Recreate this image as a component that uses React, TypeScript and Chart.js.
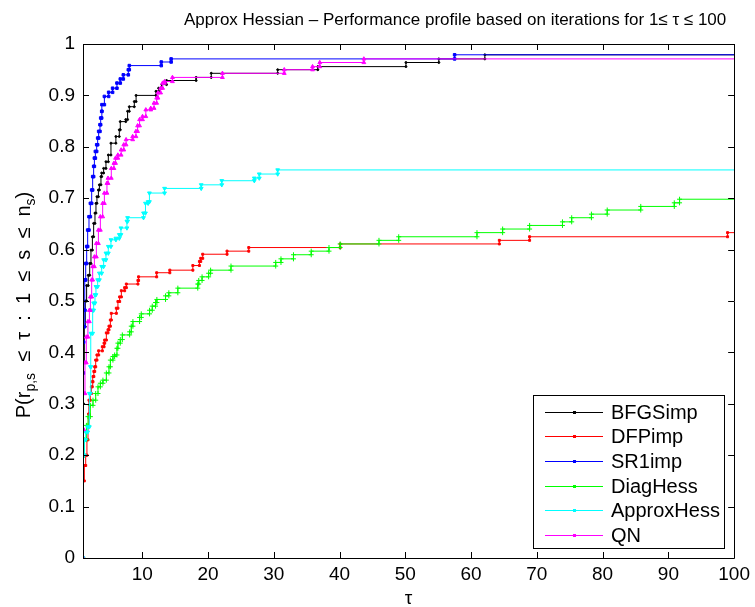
import React, { useEffect, useRef } from "react";
import { Chart, registerables } from "chart.js";
Chart.register(...registerables);

const xTicks = [10, 20, 30, 40, 50, 60, 70, 80, 90, 100];
const yTicks = [0, 0.1, 0.2, 0.3, 0.4, 0.5, 0.6, 0.7, 0.8, 0.9, 1];
const seriesNames = ["BFGSimp", "DFPimp", "SR1imp", "DiagHess", "ApproxHess", "QN"];
const seriesColors = ["#000000", "#ff0000", "#0000ff", "#00ff00", "#00ffff", "#ff00ff"];

const bfgsTau = [1, 1.1, 1.2, 1.35, 1.55, 1.8, 2.02, 2.21, 2.43, 2.62, 2.82, 2.97, 3.12, 3.34, 3.49, 3.73, 3.84, 4.14, 4.49, 4.85, 5.25, 6.0, 6.52, 6.67, 7.5, 7.78, 8.04, 8.8, 9.07, 12.1, 12.5, 13.0, 13.7, 18.2, 20.5, 30.6, 36.7, 50.1, 55.1, 62.1];
const bfgsP = [0.3, 0.38, 0.45, 0.5, 0.53, 0.55, 0.573, 0.599, 0.625, 0.651, 0.671, 0.69, 0.703, 0.716, 0.726, 0.742, 0.749, 0.758, 0.771, 0.784, 0.807, 0.82, 0.833, 0.849, 0.853, 0.869, 0.878, 0.888, 0.9, 0.908, 0.914, 0.921, 0.929, 0.935, 0.943, 0.95, 0.956, 0.964, 0.971, 0.979];

const dfpTau = [1, 1.2, 1.41, 1.6, 1.76, 1.85, 1.91, 2.1, 2.27, 2.4, 2.52, 2.65, 2.78, 2.93, 3.12, 3.38, 3.94, 4.2, 4.3, 4.55, 4.8, 4.95, 5.16, 5.3, 6.07, 6.31, 6.57, 6.83, 7.33, 7.59, 9.35, 9.45, 12.2, 14.2, 17.7, 18.7, 18.9, 19.2, 22.9, 26.2, 40.1, 64.3, 68.9, 99.0];
const dfpP = [0.15, 0.18, 0.2, 0.23, 0.255, 0.28, 0.307, 0.32, 0.333, 0.343, 0.353, 0.363, 0.372, 0.385, 0.395, 0.403, 0.411, 0.418, 0.424, 0.438, 0.444, 0.451, 0.463, 0.476, 0.486, 0.499, 0.508, 0.52, 0.526, 0.533, 0.54, 0.547, 0.555, 0.56, 0.569, 0.577, 0.583, 0.591, 0.597, 0.604, 0.611, 0.618, 0.625, 0.633];

const sr1Tau = [1, 1.05, 1.1, 1.2, 1.3, 1.41, 1.56, 1.71, 1.91, 2.12, 2.32, 2.47, 2.62, 2.73, 2.88, 3.08, 3.23, 3.38, 3.58, 3.69, 3.84, 3.88, 4.25, 4.9, 5.5, 6.16, 6.67, 7.13, 7.89, 8.04, 12.9, 14.4, 57.5];
const sr1P = [0.36, 0.42, 0.45, 0.482, 0.541, 0.573, 0.606, 0.638, 0.664, 0.69, 0.716, 0.742, 0.762, 0.778, 0.791, 0.804, 0.817, 0.83, 0.843, 0.856, 0.869, 0.882, 0.898, 0.906, 0.914, 0.924, 0.932, 0.94, 0.95, 0.958, 0.965, 0.971, 0.979];

const diagTau = [1, 1.2, 1.52, 1.76, 2.12, 2.52, 2.93, 3.28, 3.64, 4.03, 4.55, 4.95, 5.16, 5.55, 5.81, 6.16, 6.31, 6.67, 6.98, 8.09, 8.34, 8.59, 9.6, 9.86, 11.12, 11.53, 12.03, 12.23, 13.55, 14.05, 15.42, 18.45, 18.6, 19.1, 20.1, 20.4, 23.5, 30.3, 31.1, 33.0, 35.7, 38.4, 40.1, 46.0, 49.0, 60.9, 64.8, 68.9, 73.9, 75.3, 78.3, 80.7, 85.8, 90.9, 91.7];
const diagP = [0.2, 0.23, 0.258, 0.275, 0.297, 0.307, 0.32, 0.333, 0.34, 0.346, 0.36, 0.372, 0.385, 0.392, 0.395, 0.408, 0.418, 0.425, 0.434, 0.44, 0.451, 0.46, 0.468, 0.475, 0.482, 0.49, 0.497, 0.503, 0.51, 0.516, 0.525, 0.533, 0.54, 0.547, 0.554, 0.56, 0.568, 0.575, 0.582, 0.59, 0.597, 0.604, 0.611, 0.618, 0.625, 0.633, 0.64, 0.647, 0.654, 0.662, 0.669, 0.677, 0.684, 0.691, 0.698];

const approxTau = [1, 1.2, 1.41, 1.71, 1.97, 2.12, 2.21, 2.47, 2.62, 2.82, 2.97, 3.23, 3.49, 3.84, 4.14, 4.49, 4.85, 5.25, 6.0, 6.52, 6.77, 7.68, 7.78, 10.2, 10.5, 10.9, 11.1, 13.4, 18.97, 22.1, 27.05, 27.8, 30.6];
const approxP = [0.2, 0.23, 0.245, 0.255, 0.32, 0.372, 0.437, 0.482, 0.496, 0.512, 0.528, 0.541, 0.554, 0.567, 0.58, 0.593, 0.606, 0.619, 0.622, 0.629, 0.642, 0.655, 0.662, 0.671, 0.69, 0.693, 0.71, 0.719, 0.726, 0.734, 0.739, 0.747, 0.755];

const qnTau = [1, 1.1, 1.3, 1.5, 1.75, 1.97, 2.12, 2.32, 2.47, 2.73, 3.03, 3.34, 3.64, 3.99, 4.25, 4.64, 4.8, 5.3, 5.7, 5.95, 6.3, 6.8, 7.2, 7.55, 8.55, 9.05, 9.3, 9.6, 10.05, 10.55, 11.3, 11.8, 12.2, 12.4, 12.8, 13.1, 13.4, 14.6, 22.2, 31.6, 35.9, 37.0, 43.7];
const qnP = [0.25, 0.32, 0.38, 0.43, 0.46, 0.482, 0.508, 0.541, 0.567, 0.586, 0.612, 0.638, 0.664, 0.69, 0.71, 0.729, 0.739, 0.758, 0.768, 0.778, 0.784, 0.794, 0.804, 0.814, 0.82, 0.83, 0.841, 0.853, 0.859, 0.872, 0.875, 0.885, 0.895, 0.905, 0.914, 0.924, 0.927, 0.935, 0.943, 0.95, 0.956, 0.964, 0.971];

const seriesTau = [bfgsTau, dfpTau, sr1Tau, diagTau, approxTau, qnTau];
const seriesP = [bfgsP, dfpP, sr1P, diagP, approxP, qnP];
const seriesMarkers: any[] = ["circle", "rect", "rect", "cross", "triangle", "triangle"];
const markerRot = [0, 0, 0, 0, 180, 0];
const markerSize = [1, 1.4, 1.8, 2.5, 2.2, 2.2];

const FONT = "'Liberation Sans', Arial, Helvetica, sans-serif";
const TAU_MAX = 100;

function corners(tau: number[], p: number[]) {
  const pts: { x: number; y: number }[] = [{ x: tau[0], y: 0 }, { x: tau[0], y: p[0] }];
  for (let i = 1; i < tau.length; i++) {
    pts.push({ x: tau[i], y: p[i - 1] });
    pts.push({ x: tau[i], y: p[i] });
  }
  pts.push({ x: TAU_MAX, y: p[p.length - 1] });
  return pts;
}

const framePlugin = {
  id: "matlabFrame",
  afterDraw(chart: any) {
    const ctx = chart.ctx;
    const { left, right, top, bottom } = chart.chartArea;
    const xs = chart.scales.x;
    const ys = chart.scales.y;
    ctx.save();
    ctx.strokeStyle = "#000";
    ctx.lineWidth = 1;
    ctx.beginPath();
    ctx.rect(Math.round(left) + 0.5, Math.round(top) + 0.5, Math.round(right - left), Math.round(bottom - top));
    ctx.stroke();
    const tl = 6;
    ctx.beginPath();
    xTicks.forEach((v) => {
      const px = Math.round(xs.getPixelForValue(v)) + 0.5;
      ctx.moveTo(px, bottom);
      ctx.lineTo(px, bottom - tl);
      ctx.moveTo(px, top);
      ctx.lineTo(px, top + tl);
    });
    yTicks.forEach((v) => {
      const py = Math.round(ys.getPixelForValue(v)) + 0.5;
      ctx.moveTo(left, py);
      ctx.lineTo(left + tl, py);
      ctx.moveTo(right, py);
      ctx.lineTo(right - tl, py);
    });
    ctx.stroke();

    // title
    ctx.fillStyle = "#000";
    ctx.font = `17px ${FONT}`;
    ctx.textAlign = "left";
    ctx.textBaseline = "alphabetic";
    ctx.fillText("Approx Hessian \u2013 Performance profile based on iterations for 1\u2264 \u03c4 \u2264 100", 184, 25);

    // x label
    ctx.textAlign = "center";
    ctx.font = `19px ${FONT}`;
    ctx.fillText("\u03c4", (left + right) / 2, 604);

    // y label with subscripts
    const main = 20;
    const sub = 14;
    const parts: [string, boolean][] = [
      ["P(r", false],
      ["p,s", true],
      ["  \u2264  \u03c4  :  1  \u2264  s  \u2264  n", false],
      ["s", true],
      [")", false],
    ];
    let total = 0;
    parts.forEach(([t, s]) => {
      ctx.font = `${s ? sub : main}px ${FONT}`;
      total += ctx.measureText(t).width;
    });
    ctx.translate(30, (top + bottom) / 2 + 4);
    ctx.rotate(-Math.PI / 2);
    ctx.textAlign = "left";
    let cx = -total / 2;
    parts.forEach(([t, s]) => {
      ctx.font = `${s ? sub : main}px ${FONT}`;
      ctx.fillText(t, cx, s ? 5 : 0);
      cx += ctx.measureText(t).width;
    });
    ctx.setTransform(1, 0, 0, 1, 0, 0);

    // legend
    const lx0 = 533, ly0 = 395, lx1 = 724, ly1 = 548;
    ctx.fillStyle = "#fff";
    ctx.fillRect(lx0, ly0, lx1 - lx0, ly1 - ly0);
    ctx.strokeStyle = "#000";
    ctx.strokeRect(lx0 + 0.5, ly0 + 0.5, lx1 - lx0, ly1 - ly0);
    ctx.font = `20px ${FONT}`;
    ctx.textAlign = "left";
    ctx.textBaseline = "middle";
    seriesNames.forEach((name, i) => {
      const y = Math.round(411.5 + i * 24.7) + 0.5;
      ctx.strokeStyle = seriesColors[i];
      ctx.beginPath();
      ctx.moveTo(545, y);
      ctx.lineTo(603, y);
      ctx.stroke();
      ctx.fillStyle = seriesColors[i];
      ctx.fillRect(573, y - 1.5, 3, 3);
      ctx.fillStyle = "#000";
      ctx.fillText(name, 611, y + 1);
    });
    ctx.restore();
  },
};

export default function App() {
  const ref = useRef<HTMLCanvasElement | null>(null);
  useEffect(() => {
    if (!ref.current) return;
    const datasets = seriesNames.map((name, i) => {
      const pts = corners(seriesTau[i], seriesP[i]);
      return {
        label: name,
        data: pts,
        borderColor: seriesColors[i],
        backgroundColor: seriesColors[i],
        borderWidth: 1,
        pointStyle: seriesMarkers[i],
        pointRotation: markerRot[i],
        pointRadius: (c: any) => (c.dataIndex === pts.length - 1 ? 0 : markerSize[i]),
        pointBorderWidth: 1,
        pointBorderColor: seriesColors[i],
        pointBackgroundColor: seriesColors[i],
        fill: false,
        tension: 0,
        order: seriesNames.length - i,
      };
    });
    const chart = new Chart(ref.current, {
      type: "line",
      data: { datasets },
      options: {
        responsive: false,
        animation: false,
        layout: { padding: { top: 44, right: 19, left: 0, bottom: 0 } },
        plugins: { legend: { display: false }, tooltip: { enabled: false }, title: { display: false } },
        scales: {
          x: {
            type: "linear",
            min: 1,
            max: 100,
            afterBuildTicks: (s: any) => {
              s.ticks = xTicks.map((v) => ({ value: v }));
            },
            afterFit: (s: any) => {
              s.height = 49;
            },
            grid: { display: false, drawTicks: false },
            border: { display: false },
            ticks: {
              color: "#000",
              font: { family: FONT, size: 19 },
              padding: 5,
              maxRotation: 0,
              autoSkip: false,
              callback: (v: any) => String(v),
            },
          },
          y: {
            type: "linear",
            min: 0,
            max: 1,
            afterBuildTicks: (s: any) => {
              s.ticks = yTicks.map((v) => ({ value: v }));
            },
            afterFit: (s: any) => {
              s.width = 83;
            },
            grid: { display: false, drawTicks: false },
            border: { display: false },
            ticks: {
              color: "#000",
              font: { family: FONT, size: 19 },
              padding: 8,
              autoSkip: false,
              callback: (v: any) => String(v),
            },
          },
        },
      },
      plugins: [framePlugin],
    });
    return () => chart.destroy();
  }, []);
  return (
    <div style={{ position: "absolute", left: 0, top: 0, width: 755, height: 607, background: "#fff" }}>
      <canvas ref={ref} width={755} height={607} style={{ display: "block" }} />
    </div>
  );
}
